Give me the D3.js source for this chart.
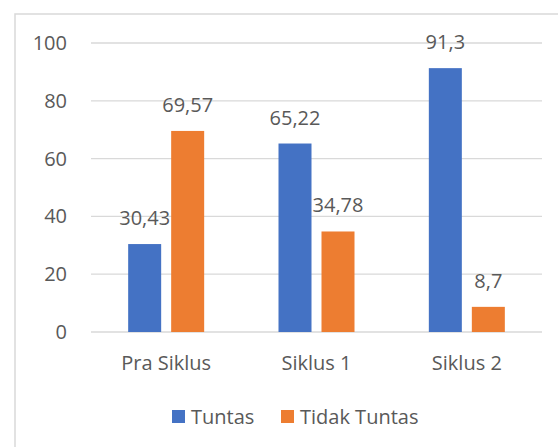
<!DOCTYPE html>
<html>
<head>
<meta charset="utf-8">
<script src="https://cdn.jsdelivr.net/npm/d3@7"></script>
<style>
  html, body { margin: 0; padding: 0; background: #fff; }
  svg { display: block; }
  text { font-family: "Open Sans", sans-serif; fill: #595959; }
</style>
</head>
<body>
<svg id="chart" width="558" height="447"></svg>
<script>
const categories = ["Pra Siklus", "Siklus 1", "Siklus 2"];
const seriesNames = ["Tuntas", "Tidak Tuntas"];
const tuntas = [30.43, 65.22, 91.3];
const tidakTuntas = [69.57, 34.78, 8.7];
const yTicks = [0, 20, 40, 60, 80, 100];
const colors = ["#4472C4", "#ED7D31"];

const seriesValues = [tuntas, tidakTuntas];
const svg = d3.select("#chart");

// outer chart border (extends past the right/bottom of the view)
svg.append("rect")
  .attr("x", 15).attr("y", 14)
  .attr("width", 600).attr("height", 500)
  .attr("fill", "none").attr("stroke", "#d9d9d9").attr("stroke-width", 1.5);

const plot = { left: 91, right: 542, top: 43, bottom: 332 };

const x = d3.scaleBand().domain(categories).range([plot.left, plot.right]).paddingInner(0).paddingOuter(0);
const y = d3.scaleLinear().domain([0, 100]).range([plot.bottom, plot.top]);

const barW = 33, gap = 10;
const groupW = barW * 2 + gap;
const xs = d3.scaleBand().domain(seriesNames).range([0, groupW]).paddingInner(gap / (barW + gap * 0.5) * 0.5);

// gridlines
svg.append("g").selectAll("line").data(yTicks).join("line")
  .attr("x1", plot.left).attr("x2", plot.right)
  .attr("y1", d => y(d)).attr("y2", d => y(d))
  .attr("stroke", "#d9d9d9").attr("stroke-width", 1.3);

// y tick labels
svg.append("g").selectAll("text").data(yTicks).join("text")
  .attr("x", 67).attr("y", d => y(d)).attr("dy", "0.35em")
  .attr("text-anchor", "end").attr("font-size", 20)
  .text(d => d);

// bars
const data = [];
categories.forEach((c, i) => {
  seriesNames.forEach((s, j) => {
    data.push({ cat: c, series: s, j: j, value: seriesValues[j][i] });
  });
});

const barX = d => x(d.cat) + (x.bandwidth() - groupW) / 2 + d.j * (barW + gap);

svg.append("g").selectAll("rect").data(data).join("rect")
  .attr("x", barX)
  .attr("y", d => y(d.value))
  .attr("width", barW)
  .attr("height", d => y(0) - y(d.value))
  .attr("fill", d => colors[d.j]);

// value labels
svg.append("g").selectAll("text").data(data).join("text")
  .attr("x", d => barX(d) + barW / 2)
  .attr("y", d => y(d.value) - 19)
  .attr("text-anchor", "middle").attr("font-size", 20)
  .text(d => String(d.value).replace(".", ","));

// category labels
svg.append("g").selectAll("text").data(categories).join("text")
  .attr("x", d => x(d) + x.bandwidth() / 2)
  .attr("y", 370)
  .attr("text-anchor", "middle").attr("font-size", 20)
  .text(d => d);

// legend
const legendItems = [
  { name: seriesNames[0], color: colors[0], x: 172 },
  { name: seriesNames[1], color: colors[1], x: 281 }
];
const lg = svg.append("g").selectAll("g").data(legendItems).join("g")
  .attr("transform", d => `translate(${d.x},410)`);
lg.append("rect").attr("width", 13).attr("height", 13).attr("fill", d => d.color);
lg.append("text").attr("x", 19).attr("y", 14).attr("font-size", 20).text(d => d.name);
</script>
</body>
</html>
